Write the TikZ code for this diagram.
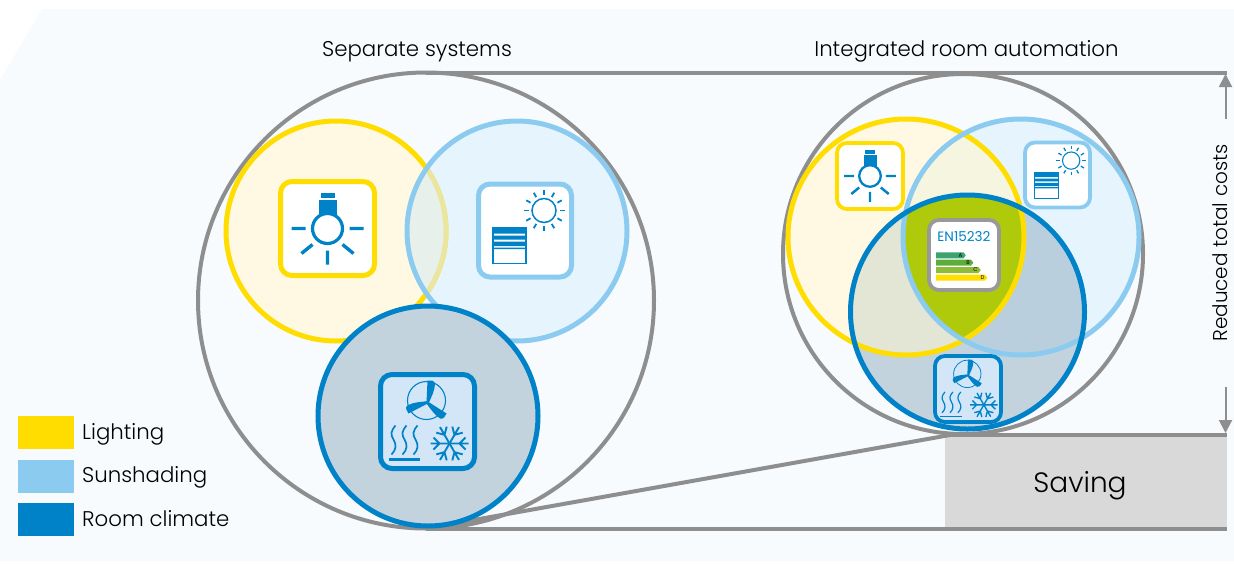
\documentclass[tikz,border=0pt]{standalone}
\usepackage{fontspec}
\setmainfont{Poppins Light}
\newfontfamily\enfont{Poppins}
\usetikzlibrary{arrows.meta}
\definecolor{cbg}{HTML}{F7FBFE}
\definecolor{cyel}{HTML}{FFDD00}
\definecolor{clbl}{HTML}{8CCBF0}
\definecolor{cblu}{HTML}{0082C8}
\definecolor{cgry}{HTML}{8E8E8E}
\definecolor{cyelf}{HTML}{FFF9E3}
\definecolor{clblf}{HTML}{E6F4FD}
\definecolor{cbluf}{HTML}{C3D3DD}
\definecolor{cclim}{HTML}{D2E6F8}
\definecolor{clens}{HTML}{E8F0EC}
\definecolor{clensline}{HTML}{EAE6A0}
\definecolor{cyl}{HTML}{F5F5E0}
\definecolor{cyb}{HTML}{E3E5D5}
\definecolor{clb}{HTML}{BACFDD}
\definecolor{cgreen}{HTML}{AFCA0B}
\definecolor{cbarA}{HTML}{3AA36E}
\definecolor{cbarB}{HTML}{5BAE3C}
\definecolor{cbarC}{HTML}{8DBB3A}
\tikzset{
  bigring/.style={circle,draw=cgry,line width=4pt,minimum size=#1,inner sep=0pt,outer sep=0pt},
  iconbox/.style={draw,line width=#1,rounded corners=1.3*#1+5pt,fill=white,inner sep=0pt,outer sep=0pt},
  greyline/.style={draw=cgry,line width=4pt},
  legendbox/.style={minimum width=56pt,minimum height=33pt,inner sep=0pt},
  legendtext/.style={anchor=base west,inner sep=0pt,font=\fontsize{21.3}{26}\selectfont},
  titletext/.style={anchor=base,inner sep=0pt,font=\fontsize{21.3}{26}\selectfont},
  ring/.style={line width=5pt},
  dimarrow/.style={draw=cgry,line width=2pt,-{Triangle[length=13pt,width=13pt,fill=cgry]}}
}
\newcommand\lampicon[3]{\begin{scope}[shift={(#1,#2)},scale=#3,cblu]
  \fill (-8.5,-29) rectangle (9.5,-13);
  \fill (-6.5,-36) rectangle (7.5,-31);
  \draw[line width=#3*3.2pt,fill=white] (0,0) circle[radius=15pt];
  \draw[line width=#3*3.4pt] (-36,0)--(-22,0) (22,0)--(36,0) (0,22)--(0,36) (-26,25)--(-15,16) (26,25)--(15,16);
\end{scope}}
\newcommand\shadeicon[3]{\begin{scope}[shift={(#1,#2)},scale=#3,cblu]
  \draw[line width=#3*1.5pt] (19,-20) circle[radius=12pt];
  \foreach \a in {0,30,...,330}{\draw[line width=#3*1.8pt,shift={(19,-20)},rotate=\a] (15.5,0)--(20.5,0);}
  \draw[line width=#3*1.5pt,fill=white] (-32,-3) rectangle (1.2,33);
  \fill (-32,-3) rectangle (1.2,3) (-32,5) rectangle (1.2,9) (-32,11) rectangle (1.2,15.5) (-32,17) rectangle (1.2,18.6);
\end{scope}}
\newcommand\climateicon[3]{\begin{scope}[shift={(#1,#2)},scale=#3,cblu]
  \draw[line width=#3*1.1pt] (-1,-21) circle[radius=19pt];
  \foreach \a in {0,120,240}{\fill[shift={(0,-19)},rotate=\a] (-1,0)--(0,-22) .. controls (3,-22.5) and (7,-22) .. (7.5,-19) .. controls (7.5,-12) and (3.5,-5) .. (1.5,0) -- cycle;}
  \foreach \x in {-34,-23,-12}{\draw[line width=#3*1.7pt] (\x+2,4) .. controls (\x-3,10) and (\x-3,13) .. (\x,18) .. controls (\x+3,23) and (\x+3,28) .. (\x-2,33);}
  \draw[line width=#3*2.2pt] (-39,38)--(-8,38);
  \foreach \a in {0,60,...,300}{\draw[line width=#3*1.9pt,shift={(22,22)},rotate=\a] (0,0)--(19,0) (10,0)--(16,-6) (10,0)--(16,6);}
\end{scope}}
\begin{document}
\begin{tikzpicture}[x=1pt,y=-1pt]
\useasboundingbox (0,0) rectangle (1234,563);
\fill[cbg] (0,80)--(42,9)--(1234,9)--(1234,561)--(0,561)--cycle;

% big rings and saving block
\node[fill=black!15,minimum width=282pt,minimum height=93pt,inner sep=0pt] (saving) at (1086,481.5) {};
\node[bigring=456pt] (sepring) at (426,300.5) {};
\node[bigring=360pt] (intring) at (963,254) {};
\coordinate (topend) at (1227,72.5);
\coordinate (midend) at (1227,435);
\coordinate (botend) at (1227,528.5);
\coordinate (midstart) at (950,435);
\draw[greyline] (sepring.north) -- (topend);
\draw[greyline] (sepring.south) -- (botend);
\draw[greyline] (midstart) -- (midend);
\draw[greyline] (sepring.south) -- (midstart);

% left venn
\fill[cyelf] (336,231) circle[radius=110pt];
\fill[clblf] (517,231) circle[radius=110pt];
\draw[cyel,ring] (336,231) circle[radius=110pt];
\begin{scope}
  \clip (517,231) circle[radius=110pt];
  \fill[clens] (336,231) circle[radius=110pt];
  \draw[ring,clensline] (336,231) circle[radius=110pt];
\end{scope}
\draw[clbl,ring] (517,231) circle[radius=110pt];
\fill[cbluf] (428,416) circle[radius=110pt];
\draw[cblu,ring] (428,416) circle[radius=110pt];

% right venn
\fill[cyelf] (906,237) circle[radius=118pt];
\fill[clblf] (1021,237) circle[radius=118pt];
\begin{scope}
  \clip (906,237) circle[radius=118pt];
  \fill[cyl] (1021,237) circle[radius=118pt];
\end{scope}
\fill[cbluf] (967.5,312) circle[radius=117pt];
\begin{scope}
  \clip (967.5,312) circle[radius=117pt];
  \fill[cyb] (906,237) circle[radius=118pt];
  \fill[clb] (1021,237) circle[radius=118pt];
  \clip (906,237) circle[radius=118pt];
  \fill[cgreen] (1021,237) circle[radius=118pt];
\end{scope}
\draw[cyel,ring] (906,237) circle[radius=118pt];
\draw[clbl,ring] (1021,237) circle[radius=118pt];
\draw[cblu,ring] (967.5,312) circle[radius=117pt];

% icon frames
\node[iconbox=5pt,draw=cyel,minimum size=94pt] (lampA) at (327.5,228.5) {};
\lampicon{327.5}{228.5}{1}
\node[iconbox=5pt,draw=clbl,minimum size=93pt] (shadeA) at (525,230.5) {};
\shadeicon{525}{230.5}{1}
\node[iconbox=5pt,draw=cblu,fill=cclim,minimum size=94pt] (climA) at (427.5,421.5) {};
\climateicon{427.5}{421.5}{1}
\node[iconbox=3.8pt,draw=cyel,minimum size=66pt] (lampB) at (870,176) {};
\lampicon{870}{176}{.72}
\node[iconbox=3.8pt,draw=clbl,minimum size=65pt] (shadeB) at (1057.5,175) {};
\shadeicon{1057.5}{175}{.72}
\node[iconbox=3.8pt,draw=cblu,fill=cclim,minimum size=66pt] (climB) at (968,389) {};
\climateicon{968}{389}{.72}
\node[iconbox=3.8pt,draw=black!40,minimum size=70pt] (enbox) at (964,255) {};
\node[inner sep=0pt,text=cblu,font=\enfont\fontsize{13.6}{16}\selectfont] (entext) at (964,237) {EN15232};
\fill[cbarA] (936,252.3)--(963.5,252.3)--(965.7,255.3)--(963.5,258.3)--(936,258.3)--cycle;
\fill[cbarB] (936,259.7)--(971,259.7)--(973.3,262.7)--(971,265.7)--(936,265.7)--cycle;
\fill[cbarC] (936,267)--(978.4,267)--(980.7,270)--(978.4,273)--(936,273)--cycle;
\fill[cyel] (936,274.7)--(985,274.7)--(987.3,277.7)--(985,280.7)--(936,280.7)--cycle;
\foreach \n/\x/\y in {A/960.5/255.3,B/968/262.7,C/975.5/270,D/982.5/277.7}
  \node[inner sep=0pt,font=\enfont\fontsize{5.5}{6}\selectfont] (en\n) at (\x,\y) {\n};

% titles
\node[titletext] (titleA) at (417,56.5) {Separate systems};
\node[titletext] (titleB) at (966.5,56.5) {Integrated room automation};
\node[font=\fontsize{28}{32}\selectfont,inner sep=0pt] (savingtext) at (1080,486) {Saving};

% reduced cost label and arrows
\node[rotate=90,inner sep=0pt,font=\fontsize{20}{24}\selectfont] (reduced) at (1220,243) {Reduced total costs};
\coordinate (upstart) at (1225.5,119);
\coordinate (downstart) at (1225.5,387);
\coordinate (upend) at (1225.5,74);
\coordinate (downend) at (1225.5,433);
\draw[dimarrow] (upstart) -- (upend);
\draw[dimarrow] (downstart) -- (downend);

% legend
\node[legendbox,fill=cyel] (legY) at (46,432.5) {};
\node[legendbox,fill=clbl] (legL) at (46,476) {};
\node[legendbox,fill=cblu] (legB) at (46,519) {};
\node[legendtext] (txtY) at (82,439) {Lighting};
\node[legendtext] (txtL) at (82,482) {Sunshading};
\node[legendtext] (txtB) at (82,526) {Room climate};
\end{tikzpicture}
\end{document}
